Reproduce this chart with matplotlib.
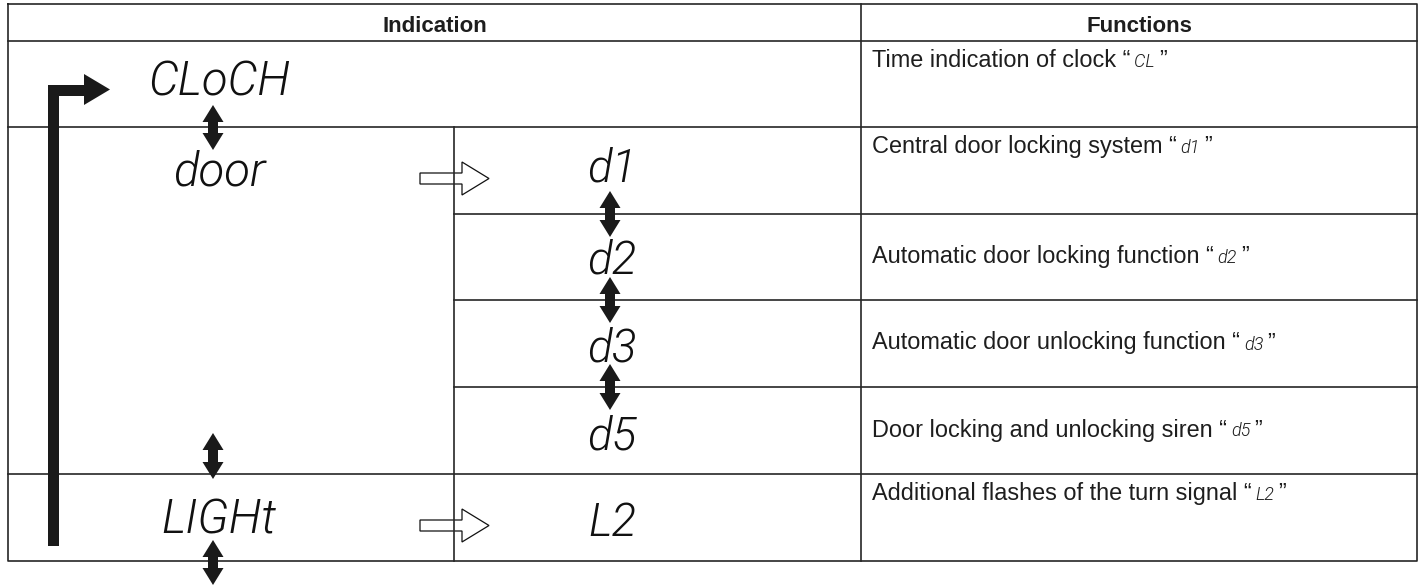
"""
Menu structure table: LCD indications and their functions.
Saves out.png (1420x586).
"""
import matplotlib
matplotlib.use("Agg")
import matplotlib.pyplot as plt
from matplotlib.patches import Polygon

HEADERS = ["Indication", "Functions"]
MENU_ITEMS = ["CLoCH", "door", "LIGHt"]
SUB_ITEMS = ["d1", "d2", "d3", "d5", "L2"]
FUNCTION_TEXTS = [
    "Time indication of clock",
    "Central door locking system",
    "Automatic door locking function",
    "Automatic door unlocking function",
    "Door locking and unlocking siren",
    "Additional flashes of the turn signal",
]
FUNCTION_CODES = ["CL", "d1", "d2", "d3", "d5", "L2"]

# layout (pixel space, y grows downwards)
W, H = 1420, 586
LEFT, RIGHT, TOP = 8, 1417, 4
HEADER_BOTTOM = 41
ROW_EDGES = [41, 127, 214, 300, 387, 474, 561]
COL_SUB = 454
COL_FUNC = 861
MENU_ROWS = [0, 1, 5]            # function row where each menu item starts
SUB_ROWS = [1, 2, 3, 4, 5]
TEXT_VALIGN = ["top", "top", "center", "center", "center", "top"]

LINE = "#262626"
TEXT = "#1e1e1e"
BODY_FONT = "Liberation Sans"
LCD = dict(family=["Roboto", "DejaVu Sans"], fontstyle="italic", fontweight=300)


def double_arrow(ax, xc, y0, y1, w=21, shaft=10, head=17):
    pts = [
        (xc, y0), (xc + w / 2, y0 + head), (xc + shaft / 2, y0 + head),
        (xc + shaft / 2, y1 - head), (xc + w / 2, y1 - head), (xc, y1),
        (xc - w / 2, y1 - head), (xc - shaft / 2, y1 - head),
        (xc - shaft / 2, y0 + head), (xc - w / 2, y0 + head),
    ]
    ax.add_patch(Polygon(pts, closed=True, fc="#1a1a1a", ec="none", zorder=4))


def hollow_arrow(ax, x0, yc, length=69, head=27, shaft_h=11, head_h=33):
    xh = x0 + length - head
    pts = [
        (x0, yc - shaft_h / 2), (xh, yc - shaft_h / 2), (xh, yc - head_h / 2),
        (x0 + length, yc), (xh, yc + head_h / 2), (xh, yc + shaft_h / 2),
        (x0, yc + shaft_h / 2),
    ]
    ax.add_patch(Polygon(pts, closed=True, fc="white", ec="#111111", lw=0.9, zorder=2))


def main() -> None:
    fig = plt.figure(figsize=(W / 100, H / 100), dpi=100)
    ax = fig.add_axes([0, 0, 1, 1])
    ax.set_xlim(0, W)
    ax.set_ylim(H, 0)
    ax.axis("off")

    bottom = ROW_EDGES[-1]
    lw = 1.2
    # outer frame and main grid
    ax.plot([LEFT, RIGHT, RIGHT, LEFT, LEFT], [TOP, TOP, bottom, bottom, TOP],
            color=LINE, lw=lw, zorder=3)
    ax.plot([COL_FUNC, COL_FUNC], [TOP, bottom], color=LINE, lw=lw, zorder=3)
    ax.plot([COL_SUB, COL_SUB], [ROW_EDGES[1], bottom], color=LINE, lw=lw, zorder=3)
    ax.plot([LEFT, RIGHT], [HEADER_BOTTOM] * 2, color=LINE, lw=lw, zorder=3)
    for i, y in enumerate(ROW_EDGES[1:-1], start=1):
        x_start = LEFT if i in MENU_ROWS else COL_SUB
        ax.plot([x_start, RIGHT], [y, y], color=LINE, lw=lw, zorder=3)

    # headers
    ax.text((LEFT + COL_FUNC) / 2, 32, HEADERS[0], ha="center", va="baseline",
            fontsize=16, fontweight="bold", family=BODY_FONT, color=TEXT)
    ax.text((COL_FUNC + RIGHT) / 2, 32, HEADERS[1], ha="center", va="baseline",
            fontsize=16, fontweight="bold", family=BODY_FONT, color=TEXT)

    # LCD indications
    menu_offsets = [55, 58, 60]
    for item, row, off in zip(MENU_ITEMS, MENU_ROWS, menu_offsets):
        ax.text(219, ROW_EDGES[row] + off, item, ha="center", va="baseline",
                fontsize=34, color="#111111", **LCD)
    sub_offsets = [54, 60, 61, 62, 62]
    for item, row, off in zip(SUB_ITEMS, SUB_ROWS, sub_offsets):
        ax.text(612, ROW_EDGES[row] + off, item, ha="center", va="baseline",
                fontsize=33, color="#111111", **LCD)

    # navigation arrows between menu levels
    double_arrow(ax, 213, ROW_EDGES[1] - 22, ROW_EDGES[1] + 23)
    double_arrow(ax, 213, ROW_EDGES[5] - 41, ROW_EDGES[5] + 5)
    double_arrow(ax, 213, ROW_EDGES[6] - 21, ROW_EDGES[6] + 24)
    for y in ROW_EDGES[2:5]:
        double_arrow(ax, 610, y - 23, y + 23)
    for row in (1, 5):
        hollow_arrow(ax, 420, ROW_EDGES[row] + 51.5)

    # loop-back arrow on the left
    loop = [(48, 546), (59, 546), (59, 96), (84, 96), (84, 105), (110, 89.5),
            (84, 74), (84, 85), (48, 85)]
    ax.add_patch(Polygon(loop, closed=True, fc="#1a1a1a", ec="none", zorder=4))

    # function descriptions with inline LCD codes
    fig.canvas.draw()
    renderer = fig.canvas.get_renderer()
    inv = ax.transData.inverted()
    for i, (label, code) in enumerate(zip(FUNCTION_TEXTS, FUNCTION_CODES)):
        top, bot = ROW_EDGES[i], ROW_EDGES[i + 1]
        base = top + 26 if TEXT_VALIGN[i] == "top" else (top + bot) / 2 + 6
        t1 = ax.text(872, base, label + " \u201c", ha="left", va="baseline",
                     fontsize=16.9, family=BODY_FONT, color=TEXT)
        x1 = inv.transform((t1.get_window_extent(renderer).x1, 0))[0]
        t2 = ax.text(x1 + 4, base, code, ha="left", va="baseline", fontsize=13,
                     color=TEXT, **LCD)
        x2 = inv.transform((t2.get_window_extent(renderer).x1, 0))[0]
        ax.text(x2 + 4, base, "\u201d", ha="left", va="baseline",
                fontsize=16.9, family=BODY_FONT, color=TEXT)

    fig.savefig("out.png", dpi=100)
    plt.close(fig)


if __name__ == "__main__":
    main()
